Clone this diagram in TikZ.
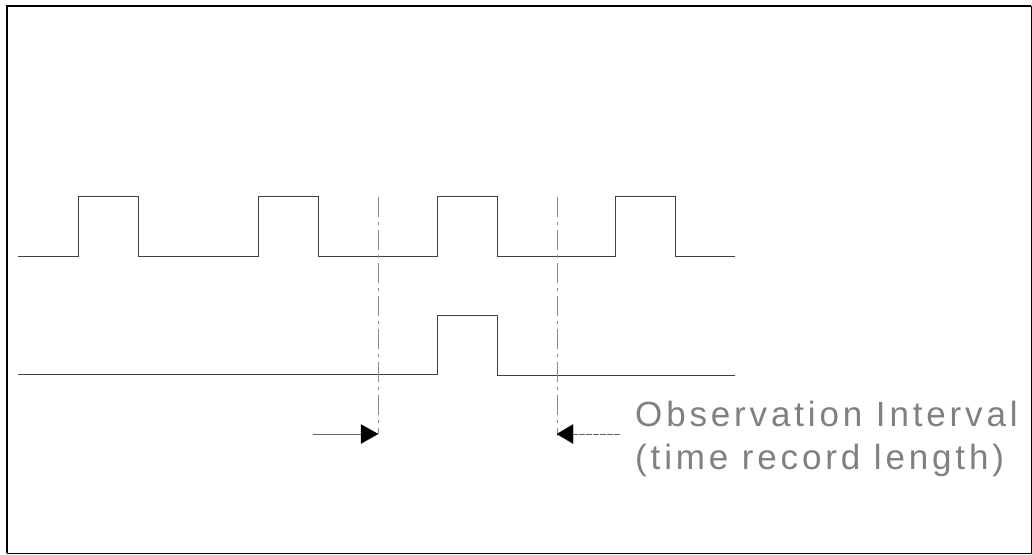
\documentclass[tikz,border=0pt]{standalone}
\usepackage{fontspec}
\newfontfamily\lblfont[LetterSpace=11]{Liberation Sans}
\tikzset{
  wave/.style={draw=black!75, line width=0.6pt},
  guide/.style={draw=black!45, line width=0.5pt, dash pattern=on 20pt off 5pt on 3pt off 5pt},
  feed/.style={draw=black!60, line width=0.5pt},
  tip/.style={fill=black, draw=black, line width=0.3pt},
  lbl/.style={anchor=base west, inner sep=0pt, text=black!50, font=\lblfont\fontsize{35}{40}\selectfont},
}
\begin{document}
\begin{tikzpicture}[x=1pt,y=-1pt]
\useasboundingbox (0,0) rectangle (1032,554);
% frame
\draw[line width=0.6pt] (1031,6) -- (1031,553) -- (7,553);
\draw[line width=2.2pt] (7,553) -- (7,6) -- (1031,6);
% top waveform
\draw[wave] (18,256) -- (78,256) -- (78,196) -- (138,196) -- (138,256)
  -- (258,256) -- (258,196) -- (318,196) -- (318,256)
  -- (437,256) -- (437,196) -- (497,196) -- (497,256)
  -- (615,256) -- (615,196) -- (675,196) -- (675,256) -- (735,256);
% bottom waveform
\draw[wave] (18,374) -- (437,374) -- (437,315) -- (497,315) -- (497,375) -- (735,375);
% guide coordinates
\coordinate (gLtop) at (378,197);
\coordinate (gLtip) at (378,434);
\coordinate (gRtop) at (557,197);
\coordinate (gRtip) at (557,434);
\coordinate (aLstart) at (313,434);
\coordinate (aLbase) at (361,434);
\coordinate (aRstart) at (620,434);
\coordinate (aRbase) at (573,434);
% dashed guides
\draw[guide] (gLtop) -- (gLtip);
\draw[guide] (gRtop) -- ([yshift=-2pt]gRtip);
% arrows
\draw[feed] (aLstart) -- (aLbase);
\fill[tip] ([yshift=-9.5pt]aLbase) -- (gLtip) -- ([yshift=9.5pt]aLbase) -- cycle;
\draw[feed, dash pattern=on 6pt off 1pt] (aRstart) -- (aRbase);
\fill[tip] ([yshift=-9.5pt]aRbase) -- (gRtip) -- ([yshift=9.5pt]aRbase) -- cycle;
% label
\node[lbl] (l1) at (635,426) {Observation Interval};
\node[lbl] (l2) at (635,469) {(time record length)};
\end{tikzpicture}
\end{document}
